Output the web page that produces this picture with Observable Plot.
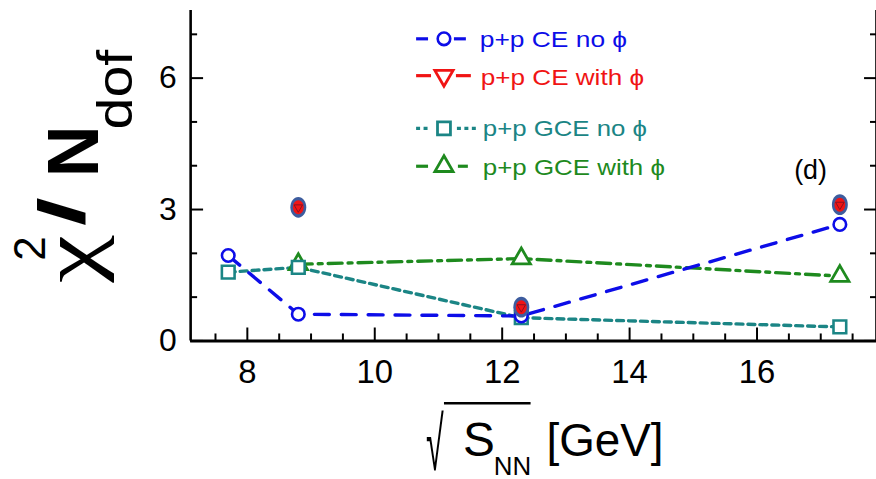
<!DOCTYPE html>
<html>
<head>
<meta charset="utf-8">
<script src="https://cdn.jsdelivr.net/npm/d3@7"></script>
<script src="https://cdn.jsdelivr.net/npm/@observablehq/plot@0.6"></script>
<style>
  html, body { margin: 0; padding: 0; background: #fff; overflow: hidden; }
  #chart { width: 876px; height: 479px; overflow: hidden; position: relative; }
</style>
</head>
<body>
<div id="chart"></div>
<script>
// Collision energies (GeV) and chi^2 / N_dof for p+p fits
const energy = [7.7, 8.8, 12.3, 17.3];
const energyWithPhi = [8.8, 12.3, 17.3];
const ceNoPhi = [1.95, 0.61, 0.57, 2.66];
const ceWithPhi = [3.05, 0.77, 3.11];
const gceNoPhi = [1.57, 1.68, 0.53, 0.32];
const gceWithPhi = [1.75, 1.88, 1.48];

// Axis ticks
const xMajor = [8, 10, 12, 14, 16];
const xMinor = [7.5, 8.5, 9, 9.5, 10.5, 11, 11.5, 12.5, 13, 13.5, 14.5, 15, 15.5, 16.5, 17, 17.5];
const yMajor = [0, 3, 6];
const yMinor = [1, 2, 4, 5, 7];

// Legend entries
const seriesNames = ["p+p CE no ϕ", "p+p CE with ϕ", "p+p GCE no ϕ", "p+p GCE with ϕ"];
const seriesColors = ["#0d0de8", "#f01414", "#1b8585", "#1e8a1e"];
const panelTag = "(d)";

const xDomain = [7.11, 17.875];
const yDomain = [0, 7.545];

const rows = (xs, ys) => xs.map((x, i) => ({x, y: ys[i]}));
const ce = rows(energy, ceNoPhi);
const cePhi = rows(energyWithPhi, ceWithPhi);
const gce = rows(energy, gceNoPhi);
const gcePhi = rows(energyWithPhi, gceWithPhi);

// Ellipse symbol (taller than wide) for the "with phi" CE markers
const ellipse = {
  draw(ctx, size) {
    const r = Math.sqrt(size / Math.PI), rx = r, ry = r * 1.3, k = 0.5523;
    ctx.moveTo(rx, 0);
    ctx.bezierCurveTo(rx, ry * k, rx * k, ry, 0, ry);
    ctx.bezierCurveTo(-rx * k, ry, -rx, ry * k, -rx, 0);
    ctx.bezierCurveTo(-rx, -ry * k, -rx * k, -ry, 0, -ry);
    ctx.bezierCurveTo(rx * k, -ry, rx, -ry * k, rx, 0);
    ctx.closePath();
  }
};

const font = "'Liberation Sans', Arial, Helvetica, sans-serif";

const svgNode = Plot.plot({
  width: 880,
  height: 479,
  marginLeft: 191,
  marginRight: 0,
  marginTop: 10,
  marginBottom: 137,
  style: {fontFamily: font, background: "#fff", color: "#000", overflow: "visible"},
  x: {domain: xDomain},
  y: {domain: yDomain},
  marks: [
    // connecting lines
    Plot.line(gce, {x: "x", y: "y", stroke: seriesColors[2], strokeWidth: 3.4, strokeDasharray: "7,5"}),
    Plot.line(gcePhi, {x: "x", y: "y", stroke: seriesColors[3], strokeWidth: 3.4, strokeDasharray: "14,6,4,6"}),
    Plot.line(ce, {x: "x", y: "y", stroke: seriesColors[0], strokeWidth: 3.4, strokeDasharray: "15,12"}),
    // markers
    Plot.dot(gcePhi, {x: "x", y: "y", symbol: "triangle", r: 6.8, stroke: seriesColors[3], strokeWidth: 2.8, fill: "#fff"}),
    Plot.dot(gce, {x: "x", y: "y", symbol: "square", r: 7.2, stroke: seriesColors[2], strokeWidth: 2.6, fill: "#fff"}),
    Plot.dot(ce, {x: "x", y: "y", symbol: "circle", r: 6.3, stroke: seriesColors[0], strokeWidth: 2.6, fill: "#fff"}),
    Plot.dot(cePhi, {x: "x", y: "y", symbol: ellipse, r: 8, fill: "#3d5c9e", stroke: "none"}),
    Plot.dot(cePhi, {x: "x", y: "y", symbol: ellipse, r: 5.4, fill: "#f01414", stroke: "none"}),
    Plot.dot(cePhi, {x: "x", y: "y", symbol: "triangle", rotate: 180, r: 3.2, fill: "none", stroke: "#8a1020", strokeWidth: 1}),
    // axis lines
    Plot.ruleY([yDomain[0]], {stroke: "#000", strokeWidth: 3}),
    Plot.ruleX([xDomain[0], xDomain[1]], {stroke: "#000", strokeWidth: 2.6}),
    // inward ticks, bottom
    Plot.axisX(xMajor, {anchor: "bottom", tickSize: 13, dy: -13, fill: "none", strokeWidth: 2}),
    Plot.axisX(xMinor, {anchor: "bottom", tickSize: 7, dy: -7, fill: "none", strokeWidth: 2}),
    Plot.axisX(xMajor, {anchor: "bottom", tickSize: 0, tickPadding: 19, fontSize: 33, label: null, tickFormat: d => String(d)}),
    // inward ticks, left and right
    Plot.axisY(yMajor, {anchor: "left", tickSize: 13, dx: 13, fill: "none", strokeWidth: 2}),
    Plot.axisY(yMinor, {anchor: "left", tickSize: 7, dx: 7, fill: "none", strokeWidth: 2}),
    Plot.axisY(yMajor, {anchor: "left", tickSize: 0, tickPadding: 14, fontSize: 32, label: null, tickFormat: d => String(d)}),
    Plot.axisY(yMajor, {anchor: "right", tickSize: 13, dx: -13, fill: "none", strokeWidth: 2}),
    Plot.axisY(yMinor, {anchor: "right", tickSize: 7, dx: -7, fill: "none", strokeWidth: 2}),
    // panel tag
    Plot.text([panelTag], {x: () => 16.84, y: () => 3.89, text: d => d, fontSize: 27, fill: "#000"})
  ]
});

document.getElementById("chart").appendChild(svgNode);
const svg = d3.select(svgNode);

// ---- y-axis title: chi^2 / N_dof, read bottom to top ----
const yt = svg.append("g")
  .attr("transform", "translate(0,283) rotate(-90)")
  .attr("font-family", font)
  .attr("text-anchor", "start")
  .attr("fill", "#000");
const titlePieces = [
  {t: "χ", x: -1, y: 97, size: 80, family: "'Liberation Serif', 'DejaVu Serif', serif", len: 48},
  {t: "2", x: 21, y: 45, size: 44},
  {t: "/", x: 56, y: 84, size: 66, weight: "bold", len: 29},
  {t: "N", x: 105, y: 98, size: 72, weight: "bold"},
  {t: "dof", x: 153, y: 133, size: 50, len: 80}
];
titlePieces.forEach(p => {
  const el = yt.append("text")
    .attr("x", p.x).attr("y", p.y)
    .attr("font-size", p.size)
    .attr("font-family", p.family || font)
    .attr("font-weight", p.weight || "normal")
    .text(p.t);
  if (p.len) el.attr("textLength", p.len).attr("lengthAdjust", "spacingAndGlyphs");
});

// ---- x-axis title: sqrt(S_NN) [GeV] ----
const xt = svg.append("g").attr("font-family", font).attr("text-anchor", "start").attr("fill", "#000");
xt.append("text")
  .attr("transform", "translate(428,472) scale(0.45,1.05)")
  .attr("font-size", 72)
  .text("√");
xt.append("line")
  .attr("x1", 446).attr("x2", 533).attr("y1", 405).attr("y2", 405)
  .attr("stroke", "#000").attr("stroke-width", 2.5);
xt.append("text").attr("x", 465).attr("y", 458).attr("font-size", 48).text("S");
xt.append("text").attr("x", 496).attr("y", 477).attr("font-size", 26).text("NN");
xt.append("text").attr("x", 549).attr("y", 458).attr("font-size", 46).text("[GeV]");

// ---- legend ----
const legendRows = [
  {cy: 39, base: 47, tx: 482, len: 148, segs: [[418, 430], [456, 468]], dash: null, mark: "circle"},
  {cy: 76, base: 85, tx: 483, len: 164, segs: [[418, 433], [458, 473]], dash: null, mark: "down"},
  {cy: 129, base: 137, tx: 485, len: 165, segs: [[418, 431], [459, 479]], dash: "4,3.5", mark: "square"},
  {cy: 167, base: 176, tx: 485, len: 183, segs: [[418, 430], [460, 470]], dash: null, mark: "up"}
];
const lg = svg.append("g").attr("font-family", font).attr("text-anchor", "start");
legendRows.forEach((r, i) => {
  const c = seriesColors[i];
  r.segs.forEach(([a, b]) => {
    lg.append("line").attr("x1", a).attr("x2", b).attr("y1", r.cy).attr("y2", r.cy)
      .attr("stroke", c).attr("stroke-width", 3.2)
      .attr("stroke-dasharray", r.dash);
  });
  const mx = 446;
  let sym;
  if (r.mark === "circle") sym = d3.symbol(d3.symbolCircle, Math.PI * 6.3 * 6.3);
  else if (r.mark === "square") sym = d3.symbol(d3.symbolSquare, 13 * 13);
  else sym = d3.symbol(d3.symbolTriangle, Math.PI * 6.8 * 6.8);
  lg.append("path")
    .attr("d", sym())
    .attr("transform", `translate(${mx},${r.cy})` + (r.mark === "down" ? " rotate(180)" : ""))
    .attr("fill", "#fff").attr("stroke", c).attr("stroke-width", r.mark === "circle" ? 2.6 : 2.8);
  lg.append("text")
    .attr("x", r.tx).attr("y", r.base)
    .attr("font-size", 23)
    .attr("fill", c)
    .attr("textLength", r.len)
    .attr("lengthAdjust", "spacingAndGlyphs")
    .text(seriesNames[i]);
});
</script>
</body>
</html>
